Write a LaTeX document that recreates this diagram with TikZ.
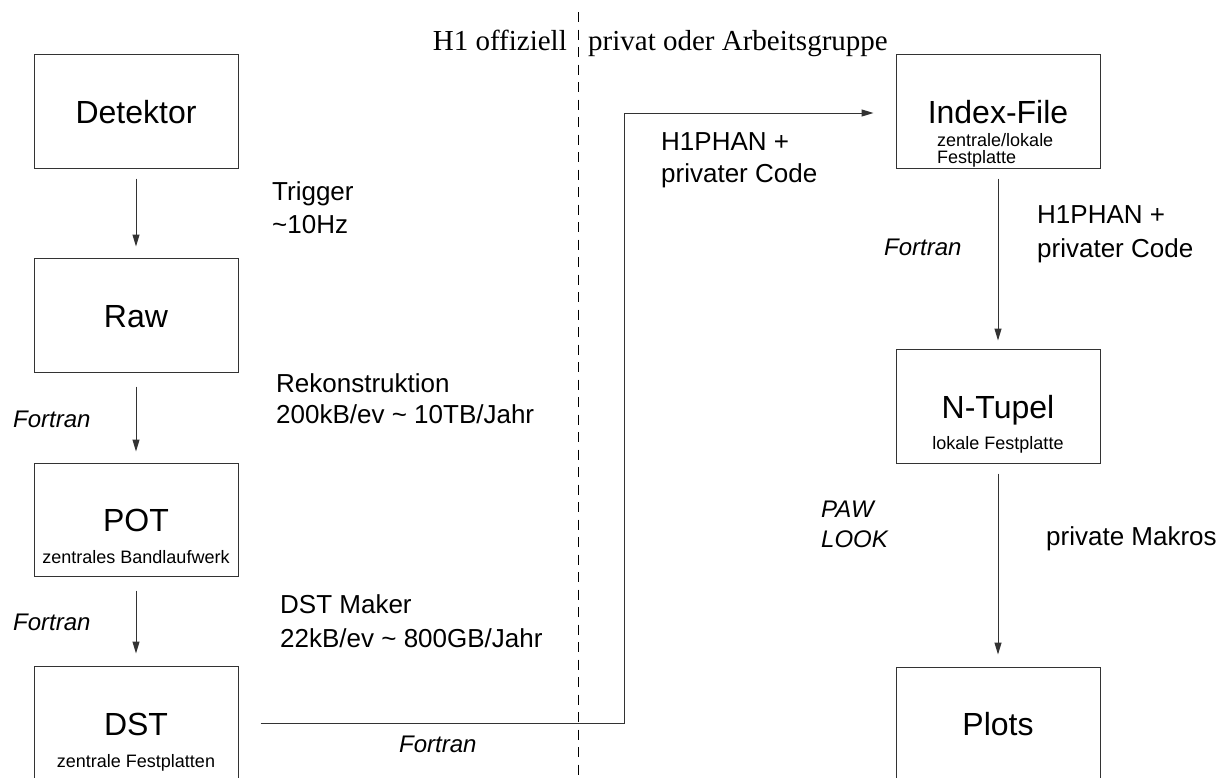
\documentclass[tikz,border=0pt]{standalone}
\usepackage{fontspec}
\setmainfont{Liberation Serif}
\setsansfont{Liberation Sans}
\usetikzlibrary{arrows.meta}
\begin{document}
\begin{tikzpicture}[x=1pt,y=-1pt,
  box/.style={draw=black!80, line width=1pt, minimum width=204pt, minimum height=114pt, inner sep=0pt},
  big/.style={font=\sffamily\fontsize{32}{38}\selectfont, inner sep=0pt, anchor=base},
  small/.style={font=\sffamily\fontsize{18}{18}\selectfont, inner sep=0pt, anchor=base},
  lbl/.style={font=\sffamily\fontsize{26}{33}\selectfont, align=left, anchor=base west, inner sep=0pt},
  ital/.style={font=\sffamily\itshape\fontsize{24}{30}\selectfont, align=left, anchor=base west, inner sep=0pt},
  conn/.style={draw=black!80, line width=1pt, -{Triangle[length=12pt,width=7pt]}},
  serif/.style={font=\rmfamily\fontsize{29}{34}\selectfont, inner sep=0pt},
  divider/.style={draw=black, line width=1pt, dash pattern=on 10pt off 7.5pt}]
\useasboundingbox (0,0) rectangle (1227,777);
\clip (0,0) rectangle (1227,777);

% left column
\node[box] (det) at (136,111) {};
\node[big] (detT) at (136,123.5) {Detektor};
\node[box] (raw) at (136,315) {};
\node[big] (rawT) at (136,327) {Raw};
\node[box, minimum height=113pt] (pot) at (136,519.5) {};
\node[big] (potT) at (136,531) {POT};
\node[small] (potS) at (136,563) {zentrales Bandlaufwerk};
\node[box] (dst) at (136,723) {};
\node[big] (dstT) at (136,735) {DST};
\node[small] (dstS) at (136,767) {zentrale Festplatten};

% right column
\node[box] (idx) at (998,111) {};
\node[big] (idxT) at (998,123) {Index-File};
\node[small, align=left, anchor=base west] (idxS) at (937,163) {zentrale/lokale\\[-1pt]Festplatte};
\node[box] (ntu) at (998,406) {};
\node[big] (ntuT) at (998,418) {N-Tupel};
\node[small] (ntuS) at (998,449) {lokale Festplatte};
\node[box] (plt) at (998,724) {};
\node[big] (pltT) at (998,735) {Plots};

% divider and headings
\coordinate (dtop) at (578,12);
\coordinate (dbot) at (578,777);
\draw[divider] (dtop) -- (dbot);
\node[serif, anchor=base east] (hoff) at (567,50) {H1 offiziell};
\node[serif, anchor=base west] (hpriv) at (588,50) {privat oder Arbeitsgruppe};

% connectors
\draw[conn, shorten <=10pt, shorten >=11pt] (det) -- (raw);
\draw[conn, shorten <=14pt, shorten >=11pt] (raw) -- (pot);
\draw[conn, shorten <=14pt, shorten >=12pt] (pot) -- (dst);
\draw[conn, shorten <=10pt, shorten >=8pt] (idx) -- (ntu);
\draw[conn, shorten <=10pt, shorten >=12pt] (ntu) -- (plt);
\coordinate (bend) at (624,113);
\draw[conn, shorten <=22pt, shorten >=22pt] (dst.east) -| (bend) -- (idx.west |- bend);

% labels (anchor = baseline of the last line)
\node[lbl] (trig) at (272,233) {Trigger\\\textasciitilde10Hz};
\node[lbl] (reko) at (276,423) {Rekonstruktion\\[-2pt]200kB/ev \textasciitilde{} 10TB/Jahr};
\node[lbl] (dstm) at (280,647) {DST Maker\\[1pt]22kB/ev \textasciitilde{} 800GB/Jahr};
\node[lbl] (phan1) at (661,182) {H1PHAN +\\[-1pt]privater Code};
\node[lbl] (phan2) at (1037,257) {H1PHAN +\\[1pt]privater Code};
\node[lbl] (makro) at (1046,545) {private Makros};
\node[ital] (paw) at (821,547) {PAW\\LOOK};
\node[ital] (f1) at (13,427) {Fortran};
\node[ital] (f2) at (13,630) {Fortran};
\node[ital] (f3) at (399,752) {Fortran};
\node[ital] (f4) at (884,255) {Fortran};
\end{tikzpicture}
\end{document}
